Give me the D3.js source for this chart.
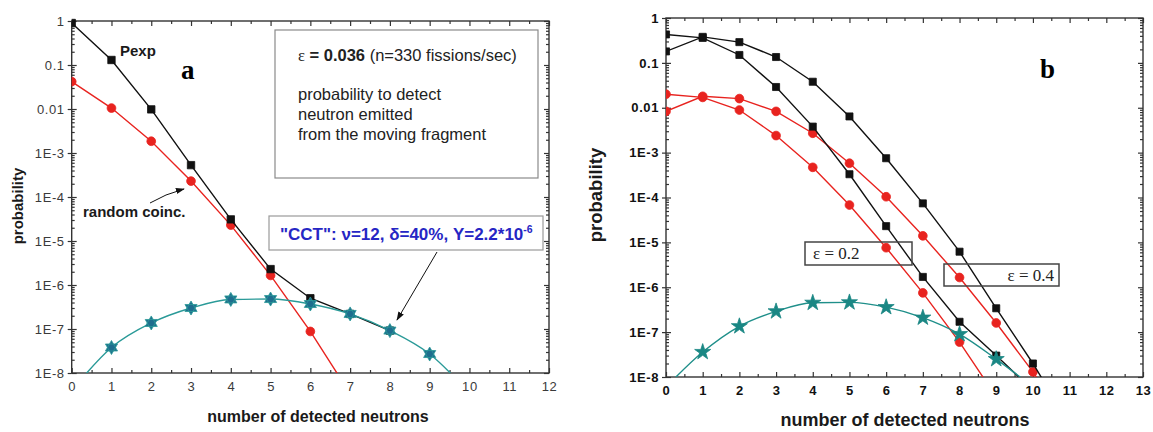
<!DOCTYPE html>
<html>
<head>
<meta charset="utf-8">
<script src="https://cdn.jsdelivr.net/npm/d3@7"></script>
<style>
  body { margin: 0; background: #fff; }
  svg { display: block; }
</style>
</head>
<body>
<div id="chart"></div>
<script>
// ---- data ----
const yTicks = [1, 0.1, 0.01, 1e-3, 1e-4, 1e-5, 1e-6, 1e-7, 1e-8];
const yTickLabels = ["1", "0.1", "0.01", "1E-3", "1E-4", "1E-5", "1E-6", "1E-7", "1E-8"];
const xTicksA = d3.range(0, 13);
const xTicksB = d3.range(0, 14);

// panel a
const pexpA   = [0.9, 0.13, 0.0098, 5.3e-4, 3.1e-5, 2.3e-6, 5.0e-7, 2.2e-7, 9.2e-8];
const randomA = [0.042, 0.0105, 1.85e-3, 2.3e-4, 2.3e-5, 1.65e-6, 8.8e-8, 3.4e-9];
const cctA    = [4e-9, 3.8e-8, 1.37e-7, 3.0e-7, 4.7e-7, 4.8e-7, 3.7e-7, 2.2e-7, 9.2e-8, 2.7e-8, 3.5e-9];

// panel b
const pexp02 = [0.43, 0.36, 0.15, 0.029, 3.8e-3, 3.3e-4, 2.3e-5, 1.7e-6, 1.7e-7, 3.0e-8, 5e-9];
const pexp04 = [0.18, 0.38, 0.29, 0.135, 0.038, 6.4e-3, 7.5e-4, 7.4e-5, 6.2e-6, 3.4e-7, 2.0e-8, 9e-10];
const rand02 = [0.02, 0.017, 8.9e-3, 2.4e-3, 4.7e-4, 6.8e-5, 7.6e-6, 7.5e-7, 6.0e-8, 3.6e-9];
const rand04 = [8.3e-3, 0.018, 0.016, 8.3e-3, 2.7e-3, 5.8e-4, 1.04e-4, 1.4e-5, 1.65e-6, 1.6e-7, 1.3e-8, 8e-10];
const cctB   = [6e-9, 3.6e-8, 1.35e-7, 2.9e-7, 4.5e-7, 4.6e-7, 3.6e-7, 2.1e-7, 9e-8, 2.5e-8, 6e-9];

const BLACK = "#111", RED = "#e8231f", TEAL = "#2a9a98";

const svg = d3.select("#chart").append("svg")
    .attr("width", 1153).attr("height", 432)
    .style("font-family", "Arial, 'Liberation Sans', sans-serif");

// six pointed star like the one in panel a
const symbolHexStar = {
  draw(ctx, size) {
    const r = Math.sqrt(size) * 0.72;
    for (let k = 0; k < 2; k++) {
      for (let i = 0; i < 3; i++) {
        const a = (k * 60 + i * 120 - 90) * Math.PI / 180;
        const px = r * Math.cos(a), py = r * Math.sin(a);
        if (i === 0) ctx.moveTo(px, py); else ctx.lineTo(px, py);
      }
      ctx.closePath();
    }
  }
};

function drawPanel(p) {
  const x = d3.scaleLinear().domain([0, p.xMax]).range([p.left, p.right]);
  const y = d3.scaleLog().domain([1e-8, 1]).range([p.bottom, p.top]);
  const g = svg.append("g");

  // axes
  const yMinor = y.ticks().filter(d => Math.abs(Math.log10(d) - Math.round(Math.log10(d))) > 1e-6);
  const xMinor = d3.range(0.5, p.xMax, 1);

  const lab = g.append("g")
      .attr("transform", "translate(" + p.left + ",0)")
      .call(d3.axisLeft(y).tickValues(yTicks).tickFormat((d, i) => yTickLabels[i])
            .tickSizeInner(4).tickSizeOuter(0).tickPadding(3));
  const inner = [
    g.append("g").attr("transform", "translate(" + p.left + ",0)")
      .call(d3.axisLeft(y).tickValues(yTicks).tickSize(-5).tickFormat("")),
    g.append("g").attr("transform", "translate(" + p.left + ",0)")
      .call(d3.axisLeft(y).tickValues(yMinor).tickSize(-3).tickFormat("")),
    g.append("g").attr("transform", "translate(" + p.right + ",0)")
      .call(d3.axisRight(y).tickValues(yTicks).tickSize(-5).tickFormat("")),
    g.append("g").attr("transform", "translate(" + p.right + ",0)")
      .call(d3.axisRight(y).tickValues(yMinor).tickSize(-3).tickFormat("")),
    g.append("g").attr("transform", "translate(0," + p.top + ")")
      .call(d3.axisTop(x).tickValues(p.xTicks).tickSize(-5).tickFormat("")),
    g.append("g").attr("transform", "translate(0," + p.top + ")")
      .call(d3.axisTop(x).tickValues(xMinor).tickSize(-3).tickFormat("")),
    g.append("g").attr("transform", "translate(0," + p.bottom + ")")
      .call(d3.axisBottom(x).tickValues(xMinor).tickSize(-3).tickFormat(""))
  ];
  const xl = g.append("g").attr("transform", "translate(0," + p.bottom + ")")
      .call(d3.axisBottom(x).tickValues(p.xTicks).tickSizeInner(-5).tickSizeOuter(0).tickPadding(9));

  [lab, xl].concat(inner).forEach(a => {
    a.select(".domain").remove();
    a.selectAll("line").attr("stroke", "#333").attr("stroke-width", 1.2);
    a.selectAll("text").attr("fill", p.tickColor).attr("font-size", p.tickSize)
      .attr("font-weight", p.tickWeight).attr("font-family", "Arial, 'Liberation Sans', sans-serif")
      .attr("letter-spacing", "0.6px");
  });

  g.append("rect")
      .attr("x", p.left).attr("y", p.top)
      .attr("width", p.right - p.left).attr("height", p.bottom - p.top)
      .attr("fill", "none").attr("stroke", "#333").attr("stroke-width", 1.4);

  // axis titles
  g.append("text")
      .attr("transform", "translate(" + p.yTitleX + "," + p.yTitleY + ") rotate(-90)")
      .attr("text-anchor", "middle").attr("dominant-baseline", "central")
      .attr("font-weight", "bold").attr("font-size", p.yTitleSize).attr("fill", "#1a1a1a")
      .text("probability");
  g.append("text")
      .attr("x", p.xTitleX).attr("y", p.xTitleY)
      .attr("text-anchor", "middle")
      .attr("font-weight", "bold").attr("font-size", p.xTitleSize).attr("fill", "#1a1a1a")
      .text("number of detected neutrons");

  const clipId = "clip-" + p.id;
  svg.append("clipPath").attr("id", clipId).append("rect")
      .attr("x", p.left).attr("y", p.top - 6)
      .attr("width", p.right - p.left).attr("height", p.bottom - p.top + 6);

  const plot = g.append("g").attr("clip-path", "url(#" + clipId + ")");
  return { x, y, g, plot };
}

function drawSeries(ax, values, color, curve, symbol, size, fill, stroke) {
  const pts = values.map((v, i) => [i, v]);
  const line = d3.line().x(d => ax.x(d[0])).y(d => ax.y(d[1])).curve(curve);
  ax.plot.append("path").attr("d", line(pts))
      .attr("fill", "none").attr("stroke", color).attr("stroke-width", 1.4);
  ax.plot.selectAll(null).data(pts.filter(d => d[1] >= 1e-8)).enter()
      .append("path")
      .attr("transform", d => "translate(" + ax.x(d[0]) + "," + ax.y(d[1]) + ")")
      .attr("d", d3.symbol().type(symbol).size(size))
      .attr("fill", fill).attr("stroke", stroke).attr("stroke-width", 0.8);
}

svg.append("defs").append("marker")
    .attr("id", "arrow").attr("viewBox", "0 0 10 10")
    .attr("refX", 9).attr("refY", 5)
    .attr("markerWidth", 9).attr("markerHeight", 9)
    .attr("orient", "auto")
  .append("path").attr("d", "M0,1.5 L10,5 L0,8.5 Z").attr("fill", "#111");

// ---------------- panel a ----------------
const A = drawPanel({
  id: "a", left: 71.7, right: 549, top: 21, bottom: 373, xMax: 12, xTicks: xTicksA,
  tickColor: "#3a3a3a", tickSize: 13, tickWeight: "normal",
  yTitleX: 17, yTitleY: 206, yTitleSize: 15,
  xTitleX: 318, xTitleY: 422, xTitleSize: 16
});

// text box (behind the curves)
A.g.append("rect").attr("x", 275).attr("y", 30).attr("width", 263).attr("height", 148)
    .attr("fill", "#fff").attr("stroke", "#8a8a8a").attr("stroke-width", 1.2);
const eps = A.g.append("text").attr("x", 298).attr("y", 61).attr("font-size", 16.5).attr("fill", "#222");
eps.append("tspan").attr("font-family", "'Liberation Serif', 'Times New Roman', serif").text("ε");
eps.append("tspan").attr("font-weight", "bold").text(" = 0.036");
eps.append("tspan").text(" (n=330 fissions/sec)");
["probability to detect", "neutron emitted", "from the moving fragment"].forEach((t, i) => {
  A.g.append("text").attr("x", 298).attr("y", 100 + i * 20)
      .attr("font-size", 16.5).attr("fill", "#222").text(t);
});

A.g.append("rect").attr("x", 269).attr("y", 216).attr("width", 274).attr("height", 34)
    .attr("fill", "#fff").attr("stroke", "#9a9a9a").attr("stroke-width", 1.2);
const cct = A.g.append("text").attr("x", 280).attr("y", 240)
    .attr("font-size", 17).attr("font-weight", "bold").attr("fill", "#2626c4");
cct.append("tspan").text("\"CCT\": ν=12, δ=40%, Y=2.2*10");
cct.append("tspan").attr("font-size", 10.5).attr("dy", -7).text("-6");

drawSeries(A, randomA, RED, d3.curveLinear, d3.symbolCircle, 60, RED, RED);
drawSeries(A, pexpA, BLACK, d3.curveLinear, d3.symbolSquare, 55, BLACK, BLACK);
drawSeries(A, cctA, TEAL, d3.curveMonotoneX, symbolHexStar, 95, "#1f6e8e", TEAL);

A.g.append("text").attr("x", 120).attr("y", 56).attr("font-size", 15)
    .attr("font-weight", "bold").attr("fill", "#1a1a1a").text("Pexp");
A.g.append("text").attr("x", 181).attr("y", 79).attr("font-size", 27)
    .attr("font-weight", "bold").attr("font-family", "'Liberation Serif', 'Times New Roman', serif")
    .text("a");
A.g.append("text").attr("x", 83).attr("y", 217).attr("font-size", 15)
    .attr("font-weight", "bold").attr("fill", "#1a1a1a").text("random coinc.");
A.g.append("path").attr("d", "M150,203 Q165,194 184,189")
    .attr("fill", "none").attr("stroke", "#111").attr("stroke-width", 1).attr("marker-end", "url(#arrow)");
A.g.append("line").attr("x1", 437).attr("y1", 252).attr("x2", 397).attr("y2", 320)
    .attr("stroke", "#111").attr("stroke-width", 1).attr("marker-end", "url(#arrow)");

// ---------------- panel b ----------------
const B = drawPanel({
  id: "b", left: 666, right: 1143, top: 18, bottom: 377, xMax: 13, xTicks: xTicksB,
  tickColor: "#111", tickSize: 13, tickWeight: "bold",
  yTitleX: 595, yTitleY: 195, yTitleSize: 18.5,
  xTitleX: 905, xTitleY: 426, xTitleSize: 18
});

const serif = "'Liberation Serif', 'Times New Roman', serif";
B.g.append("rect").attr("x", 805).attr("y", 242).attr("width", 107).attr("height", 23)
    .attr("fill", "none").attr("stroke", "#444").attr("stroke-width", 1.5);
B.g.append("text").attr("x", 813).attr("y", 259).attr("font-size", 17)
    .attr("font-family", serif).attr("fill", "#222").text("ε = 0.2");
B.g.append("rect").attr("x", 944).attr("y", 264).attr("width", 115).attr("height", 22)
    .attr("fill", "none").attr("stroke", "#444").attr("stroke-width", 1.5);
B.g.append("text").attr("x", 1054).attr("y", 281).attr("font-size", 17).attr("text-anchor", "end")
    .attr("font-family", serif).attr("fill", "#222").text("ε = 0.4");

drawSeries(B, rand02, RED, d3.curveLinear, d3.symbolCircle, 60, RED, RED);
drawSeries(B, rand04, RED, d3.curveLinear, d3.symbolCircle, 60, RED, RED);
drawSeries(B, pexp02, BLACK, d3.curveLinear, d3.symbolSquare, 50, BLACK, BLACK);
drawSeries(B, pexp04, BLACK, d3.curveLinear, d3.symbolSquare, 50, BLACK, BLACK);
drawSeries(B, cctB, "#1f8f8a", d3.curveMonotoneX, d3.symbolStar, 80, "#1a8784", "#1a8784");

B.g.append("text").attr("x", 1040).attr("y", 78).attr("font-size", 27)
    .attr("font-weight", "bold").attr("font-family", serif).text("b");
</script>
</body>
</html>
